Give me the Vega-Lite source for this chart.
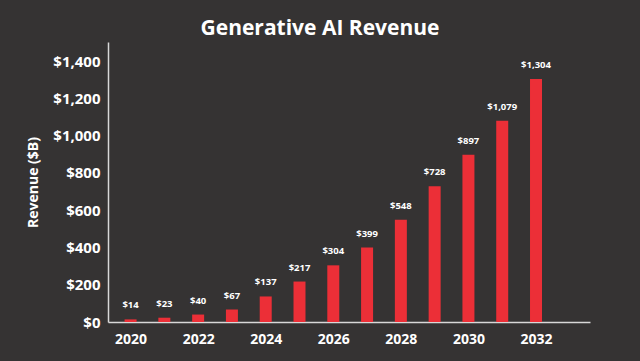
{
  "$schema": "https://vega.github.io/schema/vega-lite/v6.json",
  "autosize": "none",
  "width": 482,
  "height": 280,
  "padding": {"left": 108, "top": 42, "right": 50, "bottom": 39},
  "background": "#353333",
  "config": {
    "view": {"stroke": null},
    "font": "Open Sans"
  },
  "title": {
    "text": "Generative AI Revenue",
    "color": "#ffffff",
    "font": "Open Sans",
    "fontSize": 21,
    "fontWeight": "bold",
    "anchor": "middle",
    "dx": -29,
    "offset": 3
  },
  "data": {
    "values": [
      {"year": 2020, "revenue": 14},
      {"year": 2021, "revenue": 23},
      {"year": 2022, "revenue": 40},
      {"year": 2023, "revenue": 67},
      {"year": 2024, "revenue": 137},
      {"year": 2025, "revenue": 217},
      {"year": 2026, "revenue": 304},
      {"year": 2027, "revenue": 399},
      {"year": 2028, "revenue": 548},
      {"year": 2029, "revenue": 728},
      {"year": 2030, "revenue": 897},
      {"year": 2031, "revenue": 1079},
      {"year": 2032, "revenue": 1304}
    ]
  },
  "encoding": {
    "x": {
      "field": "year",
      "type": "quantitative",
      "scale": {"domain": [2019.48, 2033.45], "nice": false, "zero": false},
      "axis": {
        "values": [2020, 2022, 2024, 2026, 2028, 2030, 2032],
        "format": "d",
        "title": null,
        "grid": false,
        "ticks": false,
        "domainColor": "#d8d8d8",
        "domainWidth": 1.5,
        "labelColor": "#ffffff",
        "labelFont": "Open Sans",
        "labelFontWeight": "bold",
        "labelFontSize": 14,
        "labelPadding": 10
      }
    },
    "y": {
      "field": "revenue",
      "type": "quantitative",
      "scale": {"domain": [0, 1502], "nice": false},
      "axis": {
        "values": [0, 200, 400, 600, 800, 1000, 1200, 1400],
        "format": "$,d",
        "title": "Revenue ($B)",
        "titleColor": "#ffffff",
        "titleFont": "Open Sans",
        "titleFontWeight": "bold",
        "titleFontSize": 14,
        "titlePadding": 12,
        "grid": false,
        "ticks": false,
        "domainColor": "#d8d8d8",
        "domainWidth": 1.5,
        "labelColor": "#ffffff",
        "labelFont": "Open Sans",
        "labelFontWeight": "bold",
        "labelFontSize": 15,
        "labelPadding": 8
      }
    }
  },
  "layer": [
    {
      "mark": {"type": "bar", "size": 12, "color": "#ec2f37"}
    },
    {
      "mark": {"type": "text", "dy": -9, "color": "#ffffff", "font": "Open Sans", "fontWeight": "bold", "fontSize": 9.5, "baseline": "bottom"},
      "encoding": {
        "text": {"field": "revenue", "type": "quantitative", "format": "$,d"}
      }
    }
  ]
}
